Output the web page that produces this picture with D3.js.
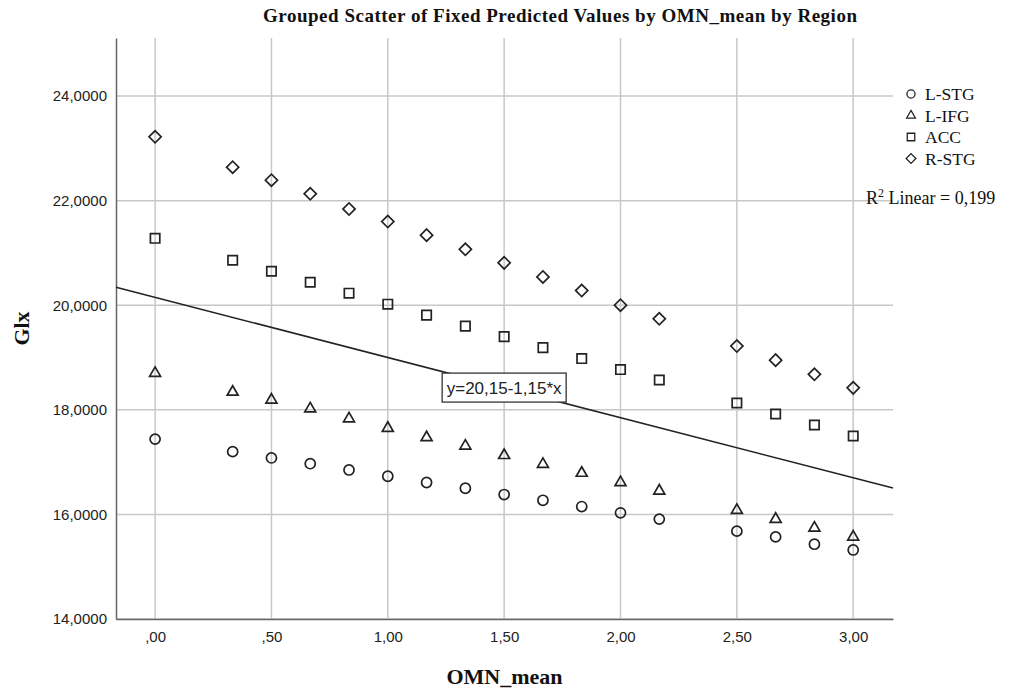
<!DOCTYPE html>
<html>
<head>
<meta charset="utf-8">
<script src="https://cdn.jsdelivr.net/npm/d3@7"></script>
<style>
  body { margin: 0; background: #fff; }
  .tick-label { font-family: "Liberation Sans", Arial, sans-serif; font-size: 15px; fill: #222; }
  .serif { font-family: "Liberation Serif", "Times New Roman", serif; fill: #111; }
</style>
</head>
<body>
<div id="chart"></div>
<script>
// x positions (OMN_mean) shared by every region
var omnMean = [0, 1/3, 0.5, 2/3, 5/6, 1, 7/6, 4/3, 1.5, 5/3, 11/6, 2, 13/6, 2.5, 8/3, 17/6, 3];

// fixed predicted Glx per region
var lstg = [17.44, 17.20, 17.08, 16.97, 16.85, 16.73, 16.61, 16.50, 16.38, 16.27, 16.15, 16.03, 15.91, 15.68, 15.57, 15.43, 15.32];
var lifg = [18.70, 18.34, 18.19, 18.02, 17.83, 17.65, 17.47, 17.31, 17.13, 16.96, 16.79, 16.61, 16.45, 16.08, 15.91, 15.74, 15.57];
var acc  = [21.28, 20.86, 20.65, 20.44, 20.23, 20.02, 19.81, 19.60, 19.40, 19.19, 18.98, 18.77, 18.57, 18.13, 17.92, 17.71, 17.50];
var rstg = [23.22, 22.64, 22.39, 22.13, 21.84, 21.60, 21.34, 21.07, 20.81, 20.54, 20.28, 20.00, 19.74, 19.22, 18.95, 18.68, 18.42];

var regions = ["L-STG", "L-IFG", "ACC", "R-STG"];
var seriesValues = [lstg, lifg, acc, rstg];

var xTicks = [0, 0.5, 1, 1.5, 2, 2.5, 3];
var xTickLabels = [",00", ",50", "1,00", "1,50", "2,00", "2,50", "3,00"];
var yTicks = [14, 16, 18, 20, 22, 24];
var yTickLabels = ["14,0000", "16,0000", "18,0000", "20,0000", "22,0000", "24,0000"];

// fit line: y = 20,15 - 1,15*x
var fitIntercept = 20.15, fitSlope = -1.15;
var fitLabel = "y=20,15-1,15*x";
var r2Label = "0,199";

var W = 1016, H = 689;
var margin = {top: 38, right: 123, bottom: 70, left: 116},
    width = W - margin.left - margin.right,
    height = H - margin.top - margin.bottom;

var xScale = d3.scaleLinear().domain([-0.168, 3.171]).range([0, width]);
var yScale = d3.scaleLinear().domain([14, 25.11]).range([height, 0]);

var svg = d3.select("#chart").append("svg")
    .attr("width", W).attr("height", H);

var g = svg.append("g")
    .attr("transform", "translate(" + margin.left + "," + margin.top + ")");

// grid
g.selectAll(".hgrid").data(yTicks).enter().append("line")
    .attr("x1", 0).attr("x2", width)
    .attr("y1", function (d) { return yScale(d); })
    .attr("y2", function (d) { return yScale(d); })
    .attr("stroke", "#c8c8c8").attr("stroke-width", 1.5);

g.selectAll(".vgrid").data(xTicks).enter().append("line")
    .attr("y1", 0).attr("y2", height)
    .attr("x1", function (d) { return xScale(d); })
    .attr("x2", function (d) { return xScale(d); })
    .attr("stroke", "#c8c8c8").attr("stroke-width", 1.5);

// axes
var xAxis = d3.axisBottom(xScale).tickValues(xTicks).tickSize(0).tickPadding(12)
    .tickFormat(function (d, i) { return xTickLabels[i]; });
var yAxis = d3.axisLeft(yScale).tickValues(yTicks).tickSize(0).tickPadding(9)
    .tickFormat(function (d, i) { return yTickLabels[i]; });

var gx = g.append("g").attr("transform", "translate(0," + height + ")").call(xAxis);
var gy = g.append("g").call(yAxis);
[gx, gy].forEach(function (ax) {
  ax.select(".domain").attr("stroke", "#666").attr("stroke-width", 1.5);
  ax.selectAll("text").attr("class", "tick-label").attr("font-size", null).attr("font-family", null);
});
gx.selectAll("text").attr("dy", "0.71em");

// fit line
var fitX = xScale.domain();
g.append("line")
    .attr("x1", xScale(fitX[0])).attr("y1", yScale(fitIntercept + fitSlope * fitX[0]))
    .attr("x2", xScale(fitX[1])).attr("y2", yScale(fitIntercept + fitSlope * fitX[1]))
    .attr("stroke", "#222").attr("stroke-width", 1.6);

// markers
var symbols = [
  d3.symbol().type(d3.symbolCircle).size(80),
  d3.symbol().type(d3.symbolTriangle).size(52),
  d3.symbol().type(d3.symbolSquare).size(88),
  d3.symbol().type(d3.symbolSquare).size(74)
];
var rotations = [0, 0, 0, 45];

seriesValues.forEach(function (vals, s) {
  g.selectAll(".pt" + s).data(vals).enter().append("path")
      .attr("d", symbols[s]())
      .attr("transform", function (d, i) {
        return "translate(" + xScale(omnMean[i]) + "," + yScale(d) + ") rotate(" + rotations[s] + ")";
      })
      .attr("fill", "none").attr("stroke", "#222").attr("stroke-width", 1.7);
});

// equation box at x = 1.5 on the fit line
var bx = xScale(1.5), by = yScale(fitIntercept + fitSlope * 1.5);
var eq = g.append("g").attr("transform", "translate(" + bx + "," + by + ")");
eq.append("rect").attr("x", -62).attr("y", -14.5).attr("width", 124).attr("height", 29)
    .attr("fill", "#fff").attr("stroke", "#333").attr("stroke-width", 1.3);
eq.append("text").attr("text-anchor", "middle").attr("dy", "0.36em")
    .style("font-family", "'Liberation Sans', Arial, sans-serif").style("font-size", "17px")
    .attr("fill", "#222").text(fitLabel);

// legend
var legend = svg.append("g").attr("transform", "translate(911,0)");
var legendY = [94, 115.5, 137, 158.5];
regions.forEach(function (r, i) {
  legend.append("path").attr("d", symbols[i]())
      .attr("transform", "translate(0," + legendY[i] + ") rotate(" + rotations[i] + ") scale(0.8)")
      .attr("fill", "none").attr("stroke", "#222").attr("stroke-width", 1.6);
  legend.append("text").attr("class", "serif").attr("x", 14).attr("y", legendY[i]).attr("dy", "0.35em")
      .style("font-size", "17.5px").text(r);
});

var r2 = svg.append("text").attr("class", "serif").attr("x", 866).attr("y", 204).style("font-size", "18px");
r2.append("tspan").text("R");
r2.append("tspan").attr("dy", -7).style("font-size", "12px").text("2");
r2.append("tspan").attr("dy", 7).text(" Linear = " + r2Label);

// title and axis titles
svg.append("text").attr("class", "serif").attr("x", 560).attr("y", 22)
    .attr("text-anchor", "middle").style("font-size", "19px").style("font-weight", "bold")
    .attr("textLength", 594).attr("lengthAdjust", "spacing")
    .text("Grouped Scatter of Fixed Predicted Values by OMN_mean by Region");

svg.append("text").attr("class", "serif")
    .attr("x", margin.left + width / 2).attr("y", 684)
    .attr("text-anchor", "middle").style("font-size", "22px").style("font-weight", "bold")
    .text("OMN_mean");

svg.append("text").attr("class", "serif")
    .attr("transform", "translate(29," + (margin.top + height / 2) + ") rotate(-90)")
    .attr("text-anchor", "middle").style("font-size", "22px").style("font-weight", "bold")
    .text("Glx");
</script>
</body>
</html>
